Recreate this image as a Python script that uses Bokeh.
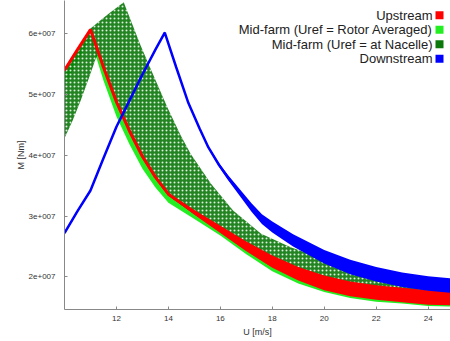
from bokeh.plotting import figure
from bokeh.models import Range1d, FixedTicker, CustomJSTickFormatter, Label, BoxAnnotation
from bokeh.embed import file_html
from bokeh.resources import INLINE

E7 = 1e7

# ---------------- data (M in units of 1e7 Nm) ----------------
x_ticks = [12, 14, 16, 18, 20, 22, 24]
y_ticks = [2, 3, 4, 5, 6]

# Upstream (red): centre of the point cloud and its half spread
up_u = [10.0, 10.5, 11.0, 11.5, 12.0, 12.5, 13.0, 13.5, 14.0, 15.0, 16.0, 17.0, 18.0, 19.0, 20.0, 21.0, 22.0, 23.0, 24.0, 25.0]
up_m = [5.40, 5.74, 6.07, 5.45, 4.88, 4.40, 3.98, 3.64, 3.36, 3.06, 2.78, 2.50, 2.25, 2.05, 1.90, 1.80, 1.74, 1.70, 1.66, 1.65]
up_spread = [0.02, 0.02, 0.02, 0.02, 0.02, 0.02, 0.02, 0.02, 0.02, 0.04, 0.06, 0.08, 0.10, 0.11, 0.12, 0.12, 0.12, 0.12, 0.12, 0.12]

# Mid-farm (Uref = Rotor Averaged) (lime): band just below upstream
ra_u = [10.0, 10.5, 11.0, 11.5, 12.0, 12.5, 13.0, 13.5, 14.0, 15.0, 16.0, 17.0, 18.0, 19.0, 20.0, 21.0, 22.0, 23.0, 24.0, 25.0]
ra_hi = [5.40, 5.74, 6.07, 5.45, 4.88, 4.40, 3.98, 3.64, 3.36, 3.06, 2.78, 2.50, 2.25, 2.05, 1.90, 1.80, 1.74, 1.70, 1.66, 1.65]
ra_lo = [5.15, 5.54, 5.92, 5.23, 4.64, 4.18, 3.78, 3.47, 3.22, 2.95, 2.68, 2.37, 2.09, 1.89, 1.75, 1.65, 1.59, 1.56, 1.52, 1.51]

# Mid-farm (Uref = at Nacelle) (dark green): outline of the point cloud
nac_top_u = [10.0, 10.5, 11.0, 11.66, 12.28, 12.93, 13.51, 13.98, 14.48, 14.86, 15.64, 16.49, 17.57, 18.73, 20.15, 21.43, 22.70, 23.75, 25.0]
nac_top_m = [5.43, 5.76, 6.09, 6.32, 6.52, 5.81, 5.23, 4.77, 4.32, 4.02, 3.53, 3.09, 2.71, 2.48, 2.27, 2.08, 1.92, 1.82, 1.79]
nac_bot_u = [25.0, 24.0, 23.0, 22.0, 21.0, 20.0, 19.0, 18.0, 17.0, 16.0, 15.0, 14.0, 13.5, 13.0, 12.5, 12.0, 11.5, 11.3, 11.2, 10.93, 10.62, 10.31, 10.0]
nac_bot_m = [1.62, 1.63, 1.67, 1.71, 1.77, 1.87, 2.02, 2.22, 2.47, 2.75, 3.03, 3.33, 3.61, 3.95, 4.37, 4.85, 5.42, 5.66, 5.59, 5.26, 4.90, 4.57, 4.28]

# Downstream (blue)
dn_u = [10.0, 10.5, 11.0, 11.5, 12.0, 12.5, 13.0, 13.5, 13.86, 14.3, 14.77, 15.2, 15.54, 15.95, 16.3, 17.2, 17.6, 18.0, 18.8, 20.0, 21.0, 22.0, 23.0, 24.0, 25.0]
dn_m = [2.72, 3.08, 3.42, 3.95, 4.47, 4.90, 5.33, 5.74, 6.02, 5.45, 4.86, 4.44, 4.13, 3.84, 3.63, 3.14, 2.95, 2.82, 2.60, 2.33, 2.16, 2.04, 1.95, 1.89, 1.85]
dn_spread = [0.02, 0.02, 0.02, 0.02, 0.02, 0.02, 0.02, 0.02, 0.02, 0.02, 0.02, 0.02, 0.02, 0.03, 0.04, 0.07, 0.08, 0.09, 0.10, 0.11, 0.12, 0.12, 0.12, 0.12, 0.12]

series_names = ["Upstream", "Mid-farm (Uref = Rotor Averaged)", "Mid-farm (Uref = at Nacelle)", "Downstream"]
series_colors = ["#ff0000", "#22ee22", "#0a780a", "#0000ff"]

# ---------------- figure ----------------
p = figure(width=450, height=339, x_range=Range1d(10, 24.86), y_range=Range1d(1.461 * E7, 6.549 * E7),
           output_backend="svg", toolbar_location=None,
           min_border_left=64, min_border_right=0, min_border_top=0, min_border_bottom=30)
p.grid.visible = False
p.outline_line_color = None
p.background_fill_color = "white"
p.border_fill_color = "white"

sc = lambda a: [v * E7 for v in a]

# lime band
p.varea(x=ra_u, y1=sc(ra_lo), y2=sc(ra_hi), fill_color=series_colors[1], fill_alpha=1)

# dark green cloud
poly_u = nac_top_u + nac_bot_u
poly_m = sc(nac_top_m + nac_bot_m)
p.patch(poly_u, poly_m, fill_color=series_colors[2], fill_alpha=0.9, line_color=None,
        hatch_pattern="dot", hatch_color="white", hatch_alpha=0.85, hatch_scale=4, hatch_weight=1.6)

# red
p.varea(x=up_u, y1=[(m - s) * E7 for m, s in zip(up_m, up_spread)],
        y2=[(m + s) * E7 for m, s in zip(up_m, up_spread)], fill_color=series_colors[0])
p.line(up_u, sc(up_m), line_width=3, line_color=series_colors[0])

# blue
p.varea(x=dn_u, y1=[(m - s) * E7 for m, s in zip(dn_m, dn_spread)],
        y2=[(m + s) * E7 for m, s in zip(dn_m, dn_spread)], fill_color=series_colors[3])
p.line(dn_u, sc(dn_m), line_width=2.5, line_color=series_colors[3])

# axes
for ax in (p.xaxis, p.yaxis):
    ax.major_tick_in = 3
    ax.major_tick_out = 0
    ax.minor_tick_in = 0
    ax.minor_tick_out = 0
    ax.axis_line_color = "#888888"
    ax.major_tick_line_color = "#888888"
    ax.major_label_text_font = "Liberation Sans"
    ax.major_label_text_font_size = "8px"
    ax.major_label_text_color = "#333333"
    ax.axis_label_text_font = "Liberation Sans"
    ax.axis_label_text_font_size = "9px"
    ax.axis_label_text_font_style = "normal"
    ax.axis_label_text_color = "#333333"

p.xaxis.ticker = FixedTicker(ticks=x_ticks)
p.yaxis.ticker = FixedTicker(ticks=[t * E7 for t in y_ticks])
p.yaxis.formatter = CustomJSTickFormatter(code="return (tick/1e7).toFixed(0) + 'e+007';")
p.xaxis.axis_label = "U [m/s]"
p.yaxis.axis_label = "M [Nm]"
p.xaxis.major_label_standoff = 6
p.xaxis.axis_label_standoff = 3
p.yaxis.major_label_standoff = 9
p.yaxis.axis_label_standoff = 0

# legend (top right, text right-aligned, swatch on the right)
leg_y = [294.2, 279.7, 265.2, 250.7]
for name, col, yy in zip(series_names, series_colors, leg_y):
    p.add_layout(Label(x=368, y=yy, x_units="screen", y_units="screen", text=name,
                       text_align="right", text_baseline="middle", text_font="Liberation Sans",
                       text_font_size="13px", text_color="#222222"))
    p.add_layout(BoxAnnotation(left=371, right=379, bottom=yy - 4, top=yy + 4,
                               left_units="screen", right_units="screen",
                               bottom_units="screen", top_units="screen",
                               fill_color=col, fill_alpha=1, line_color=None))

open("out.html", "w").write(file_html(p, INLINE))
